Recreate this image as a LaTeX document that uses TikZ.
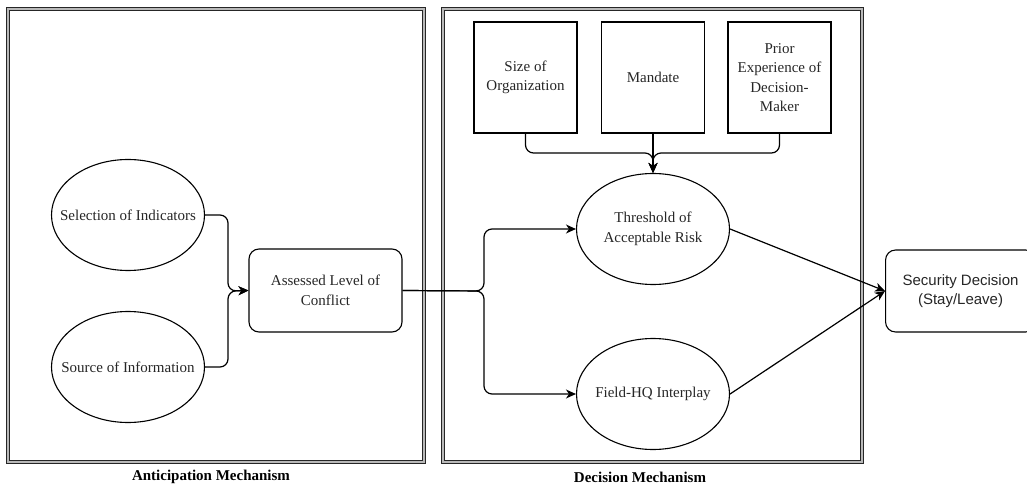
\documentclass[tikz,border=0pt]{standalone}
\usepackage{fontspec}
\setmainfont{Liberation Serif}
\newfontfamily\arialfont{Liberation Sans}
\usetikzlibrary{shapes.geometric,arrows.meta}

\begin{document}
\begin{tikzpicture}[x=1pt,y=-1pt,
  every node/.style={font=\fontsize{15}{19.5}\selectfont, text=black!85},
  frame/.style={draw=black!85, line width=0.9pt, double=gray!55, double distance=1.4pt},
  ell/.style={ellipse, draw, line width=1.1pt, minimum width=153pt, minimum height=111pt, inner sep=0pt},
  sq/.style={rectangle, draw, line width=1.1pt, minimum width=103pt, minimum height=111pt, align=center, inner sep=0pt},
  rbox/.style={rectangle, rounded corners=10pt, draw, line width=1.1pt, align=center},
  conn/.style={line width=1.2pt, rounded corners=8pt},
  arr/.style={conn, -{Stealth[length=10pt,width=9pt,inset=3pt]}},
  captext/.style={font=\fontsize{15}{17}\selectfont\bfseries, text=black}
]
\useasboundingbox (0,0) rectangle (1027,486);
\clip (0,0) rectangle (1027,486);

% the two mechanism frames
\draw[frame] (8,9) rectangle (424,462);
\draw[frame] (443,9) rectangle (862,462);
\node[captext] (capA) at (211,477) {Anticipation Mechanism};
\node[captext] (capD) at (640,477) {Decision Mechanism};

% anticipation mechanism
\node[ell, label={center:Selection of Indicators}] (sel) at (128,215) {};
\node[ell, label={center:Source of Information}] (src) at (128,367) {};
\node[rbox, minimum width=153pt, minimum height=83pt] (ale) at (325.5,290.5) {Assessed Level of\\Conflict};

% decision mechanism
\node[sq] (size) at (525.5,77.5) {Size of\\Organization};
\node[sq] (man) at (653,77.5) {Mandate};
\node[sq] (prior) at (779.5,77.5) {Prior\\Experience of\\Decision-\\Maker};
\node[ell, label={[align=center]center:Threshold of\\Acceptable Risk}] (thr) at (653,229) {};
\node[ell, label={center:Field-HQ Interplay}] (fhq) at (653,394) {};

% outcome
\node[rbox, font={\arialfont\fontsize{15}{19.5}\selectfont}, minimum width=150pt, minimum height=82pt, anchor=west] (sec) at (885,291) {Security Decision\\(Stay/Leave)};

% junction points
\coordinate (jA) at (228,291);
\coordinate (jB) at (484,291);
\coordinate (jC) at (653,153);

% connectors
\draw[arr] (sel.east) -| (jA) -- (ale.west);
\draw[arr] (src.east) -| (jA) -- (ale.west);
\draw[arr] (ale.east) -- (jB) |- (thr.west);
\draw[arr] (ale.east) -- (jB) |- (fhq.west);
\draw[arr] (size.south) |- (jC) -- (thr.north);
\draw[arr] (man.south) -- (thr.north);
\draw[arr] (prior.south) |- (jC) -- (thr.north);
\draw[arr] (thr.east) -- (sec.west);
\draw[arr] (fhq.east) -- (sec.west);
\end{tikzpicture}
\end{document}
